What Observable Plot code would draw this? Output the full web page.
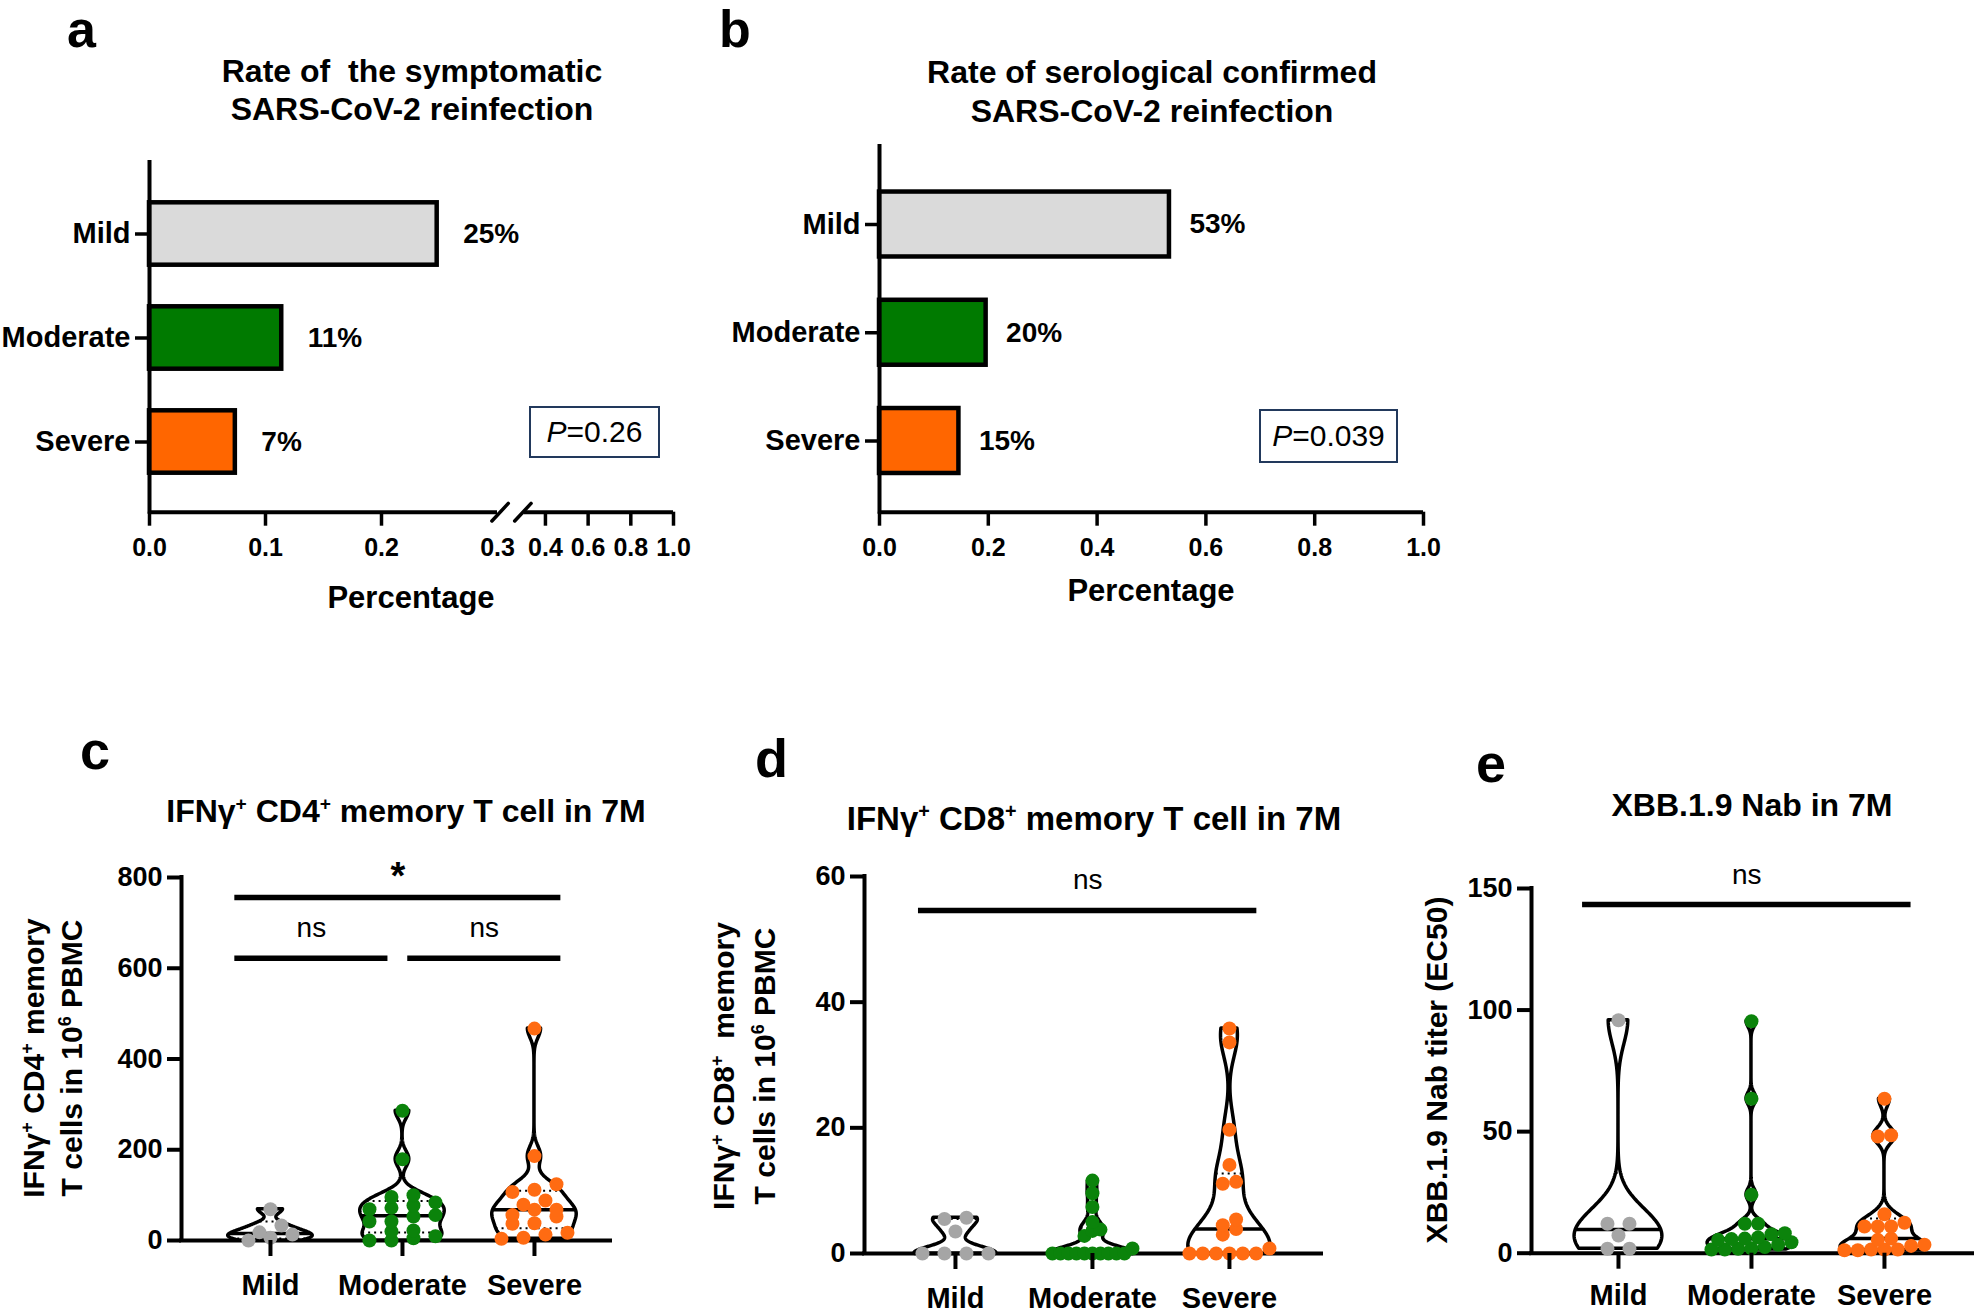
<!DOCTYPE html>
<html>
<head>
<meta charset="utf-8">
<script src="https://cdn.jsdelivr.net/npm/d3@7"></script>
<script src="https://cdn.jsdelivr.net/npm/@observablehq/plot@0.6"></script>
<style>
  html, body { margin: 0; padding: 0; background: #ffffff; }
  #page { position: relative; width: 1975px; height: 1313px; overflow: hidden; background: #fff;
          font-family: "Liberation Sans", Arial, Helvetica, sans-serif; color: #000; }
  #page svg { position: absolute; }
  .t { position: absolute; white-space: pre; line-height: 1; }
  .t sup, .ylab sup { font-size: 0.6em; position: relative; top: -0.62em; vertical-align: baseline; line-height: 0; }
  .pbox { position: absolute; box-sizing: border-box; border: 2px solid #22395c; display: flex; align-items: center;
          justify-content: center; font-size: 30px; font-weight: normal; line-height: 1; white-space: pre; }
  .ylab { position: absolute; transform: translate(-50%, -50%) rotate(-90deg); white-space: pre; text-align: center;
          font-weight: bold; font-size: 30px; }
</style>
</head>
<body>
<div id="page"></div>
<script>
// ---------------- data ----------------
const groups = ["Mild", "Moderate", "Severe"];

// a: symptomatic reinfection rate
const symptomaticRate = [0.248, 0.114, 0.074];
const symptomaticText = ["25%", "11%", "7%"];
const pSymptomatic = "0.26";
const ticksA = [0, 0.1, 0.2, 0.3, 0.4, 0.6, 0.8, 1.0];

// b: serological confirmed reinfection rate
const serologicalRate = [0.533, 0.196, 0.146];
const serologicalText = ["53%", "20%", "15%"];
const pSerological = "0.039";
const ticksB = [0, 0.2, 0.4, 0.6, 0.8, 1.0];

// c: IFNγ+ CD4+ memory T cells
const cd4Mild = [69, 33, 18, 13, 6, 0];
const cd4Moderate = [286, 179, 100, 96, 84, 77, 72, 69, 56, 53, 42, 42, 22, 20, 9.5, 5, 0, 0];
const cd4Severe = [467, 186, 124, 112, 107, 88, 79, 68, 68, 56, 53, 38, 37, 17, 13, 6, 4];
const ticksC = [0, 200, 400, 600, 800];
const sigC = [
  {from: "Mild", to: "Severe", level: 756, label: "*"},
  {from: "Mild", to: "Moderate", level: 622, label: "ns"},
  {from: "Moderate", to: "Severe", level: 622, label: "ns"}
];

// d: IFNγ+ CD8+ memory T cells
const cd8Mild = [5.7, 5.5, 3.5, 0, 0, 0, 0];
const cd8Moderate = [11.6, 9.6, 7.4, 5.0, 3.8, 3.6, 2.8, 0.8, 0, 0, 0, 0, 0, 0, 0, 0, 0, 0];
const cd8Severe = [35.8, 33.6, 19.7, 14.1, 11.4, 11.1, 5.4, 4.5, 3.9, 3.0, 0.8, 0, 0, 0, 0, 0, 0];
const ticksD = [0, 20, 40, 60];
const sigD = [{from: "Mild", to: "Severe", level: 54.6, label: "ns"}];

// e: XBB.1.9 Nab titer
const nabMild = [95.8, 12.1, 12.1, 7.3, 1.8, 1.8];
const nabModerate = [95.4, 63.5, 24.0, 12.1, 12.1, 8.2, 7.8, 6.5, 6.0, 5.8, 5.5, 4.5, 3.5, 2.5, 2.0, 1.8, 1.5, 1.5];
const nabSevere = [63.5, 48.5, 48.0, 16.0, 12.5, 11.0, 11.0, 11.0, 6.0, 5.5, 3.5, 3.0, 1.5, 1.5, 1.5, 1.2, 1.2];
const ticksE = [0, 50, 100, 150];
const sigE = [{from: "Mild", to: "Severe", level: 143.4, label: "ns"}];

// ---------------- styling / helpers ----------------
const page = document.getElementById("page");
const FONT = '"Liberation Sans", Arial, Helvetica, sans-serif';
const barColors = ["#dadada", "#007a00", "#ff6600"];
const dotColors = ["#a5a5a5", "#0b830b", "#ff6b12"];

function svgStyle(fs) {
  return {fontFamily: FONT, fontWeight: "bold", fontSize: fs + "px", background: "transparent", overflow: "visible"};
}
function mount(svg, left, top) {
  svg.style.left = left + "px";
  svg.style.top = top + "px";
  page.appendChild(svg);
}
function txt(html, x, baseline, fs, opt = {}) {
  const lh = opt.lineHeight || 1;
  const el = document.createElement("div");
  el.className = "t";
  el.innerHTML = html;
  el.style.fontSize = fs + "px";
  el.style.lineHeight = String(lh);
  el.style.fontWeight = opt.weight || "bold";
  el.style.left = x + "px";
  el.style.top = (baseline - (lh / 2 + 0.3465) * fs) + "px";
  if (opt.anchor === "middle") el.style.transform = "translateX(-50%)";
  page.appendChild(el);
}
function pbox(html, left, top, w, h) {
  const el = document.createElement("div");
  el.className = "pbox";
  el.style.left = left + "px"; el.style.top = top + "px";
  el.style.width = w + "px"; el.style.height = h + "px";
  el.innerHTML = html;
  page.appendChild(el);
}
function ylab(html, cx, cy, lh) {
  const el = document.createElement("div");
  el.className = "ylab";
  el.style.left = cx + "px"; el.style.top = cy + "px";
  el.style.lineHeight = lh + "px";
  el.innerHTML = html;
  page.appendChild(el);
}

// ---------------- bar panels (a, b) ----------------
const slash = {draw(context, l) { context.moveTo(0, 0); context.lineTo(0, -l); }};

function barPanel(cfg) {
  const bars = groups.map((g, i) => ({g, i, value: cfg.rates[i], text: cfg.texts[i]}));
  const yAxisPos = cfg.ydom[0];
  const marks = [
    Plot.rect(bars, {x1: 0, x2: "value", y1: d => d.i - 0.3, y2: d => d.i + 0.3,
      fill: "g", stroke: "black", strokeWidth: 4.5}),
    Plot.ruleX([0], {stroke: "black", strokeWidth: 4, strokeLinecap: "square"}),
    Plot.ruleY(cfg.segments, {y: yAxisPos, x1: d => d[0], x2: d => d[1], stroke: "black", strokeWidth: 4}),
    Plot.axisY([0, 1, 2], {tickSize: 14, tickPadding: 5, strokeWidth: 3.5, fontSize: 29,
      tickFormat: i => groups[i], label: null}),
    Plot.axisX(cfg.tickLines, {tickSize: 14, strokeWidth: 3.5, tickFormat: () => "", label: null}),
    Plot.axisX(cfg.tickLabels, {tickSize: 0, tickPadding: 26, fontSize: 25,
      tickFormat: d => d.toFixed(1), label: null}),
    Plot.text(bars, {x: "value", y: "i", text: "text", dx: cfg.labelDx, textAnchor: "start",
      fontSize: 28, fontWeight: "bold"})
  ];
  if (cfg.breakAt) {
    marks.push(Plot.vector([cfg.breakAt[0]], {x: d => d, y: yAxisPos, length: 24, rotate: 43, anchor: "middle",
      shape: slash, strokeWidth: 3.5, dx: 2.6}));
    marks.push(Plot.vector([cfg.breakAt[1]], {x: d => d, y: yAxisPos, length: 24, rotate: 43, anchor: "middle",
      shape: slash, strokeWidth: 3.5, dx: -1.2}));
  }
  const svg = Plot.plot({
    width: cfg.width, height: cfg.height,
    marginLeft: cfg.ml, marginRight: cfg.mr, marginTop: cfg.mt, marginBottom: cfg.mb,
    style: svgStyle(25),
    x: cfg.x,
    y: {domain: cfg.ydom},
    color: {domain: groups, range: barColors},
    marks
  });
  mount(svg, cfg.left, cfg.top);
}

barPanel({
  left: 0, top: 130, width: 700, height: 450, ml: 149, mr: 27, mt: 32, mb: 68.3,
  ydom: [2.675, -0.6875],
  x: {type: "linear", domain: [0, 0.3, 0.30001, 1], range: [149, 497, 523.6, 673]},
  rates: symptomaticRate, texts: symptomaticText,
  segments: [[0, 0.3], [0.30001, 1]],
  tickLines: ticksA.filter(t => t !== 0.3), tickLabels: ticksA,
  labelDx: 26, breakAt: [0.3, 0.30001]
});

barPanel({
  left: 720, top: 120, width: 730, height: 460, ml: 159, mr: 27, mt: 26, mb: 68.3,
  ydom: [2.6577, -0.7206],
  x: {type: "linear", domain: [0, 1]},
  rates: serologicalRate, texts: serologicalText,
  segments: [[0, 1]],
  tickLines: ticksB, tickLabels: ticksB,
  labelDx: 20, breakAt: null
});

// ---------------- violin panels (c, d, e) ----------------
function quantileR6(s, p) {
  const n = s.length, h = (n + 1) * p, lo = Math.floor(h);
  if (lo < 1) return s[0];
  if (lo >= n) return s[n - 1];
  return s[lo - 1] + (h - lo) * (s[lo] - s[lo - 1]);
}
function bandwidth(s) {
  const n = s.length;
  const sd = d3.deviation(s) || 1;
  const iqr = quantileR6(s, 0.75) - quantileR6(s, 0.25);
  const spread = iqr > 0 ? Math.min(sd, iqr / 1.34) : sd;
  return 0.6 * spread * Math.pow(n, -0.2);
}
function swarm(sorted, ky) {
  const rowTol = 7.8;
  const rows = [];
  let cur = null;
  sorted.forEach((v, k) => {
    const py = v * ky;
    if (!cur || py - cur.start > rowTol) { cur = {start: py, idx: []}; rows.push(cur); }
    cur.idx.push(k);
  });
  const mMax = d3.max(rows, r => r.idx.length);
  const sp = mMax > 1 ? Math.min(22, 80 / (mMax - 1)) : 22;
  const offs = new Array(sorted.length);
  rows.forEach(r => {
    const m = r.idx.length;
    r.idx.forEach((k, j) => { offs[k] = (j - (m - 1) / 2) * sp; });
  });
  return offs;
}
function sigRows(sig) {
  return sig.map(s => {
    const i = groups.indexOf(s.from), j = groups.indexOf(s.to);
    const x1 = i - 0.27 + (i > 0 ? 0.31 : 0);
    const x2 = j + 0.2 - (j < groups.length - 1 ? 0.31 : 0);
    return {...s, x1, x2, mid: (x1 + x2) / 2};
  });
}

function violinPanel(cfg) {
  const kx = (cfg.width - cfg.ml - cfg.mr) / (cfg.xdom[1] - cfg.xdom[0]);
  const ky = (cfg.height - cfg.mt - cfg.mb) / (cfg.ydom[1] - cfg.ydom[0]);
  const outline = [], stats = [], dots = [];
  cfg.series.forEach((vals, gi) => {
    const s = d3.sort(vals);
    const n = s.length, lo = s[0], hi = s[n - 1];
    const h = bandwidth(s);
    const f = v => d3.sum(s, x => Math.exp(-0.5 * ((v - x) / h) ** 2));
    const N = 160;
    const grid = d3.range(N + 1).map(k => lo + (hi - lo) * k / N);
    const fmax = d3.max(grid, f);
    const w = v => cfg.halfWidth * f(v) / fmax;
    grid.forEach(v => outline.push({g: groups[gi], gi, v, w: w(v)}));
    [[0.25, "q"], [0.5, "m"], [0.75, "q"]].forEach(([p, kind]) => {
      const q = quantileR6(s, p);
      stats.push({gi, q, w: w(q), kind});
    });
    const offs = swarm(s, ky);
    s.forEach((v, k) => dots.push({g: groups[gi], v, x: gi + offs[k] / kx}));
  });
  const sig = sigRows(cfg.sig);
  const svg = Plot.plot({
    width: cfg.width, height: cfg.height,
    marginLeft: cfg.ml, marginRight: cfg.mr, marginTop: cfg.mt, marginBottom: cfg.mb,
    style: svgStyle(27),
    x: {type: "linear", domain: cfg.xdom},
    y: {type: "linear", domain: cfg.ydom},
    color: {domain: groups, range: dotColors},
    marks: [
      Plot.ruleX([cfg.xdom[0]], {stroke: "black", strokeWidth: 4, strokeLinecap: "square"}),
      Plot.ruleY([0], {stroke: "black", strokeWidth: 4, strokeLinecap: "square"}),
      Plot.areaX(outline, {y: "v", x1: d => d.gi - d.w, x2: d => d.gi + d.w, z: "g",
        fill: "white", stroke: "black", strokeWidth: 3.5, strokeLinejoin: "round"}),
      Plot.ruleY(stats.filter(d => d.kind === "q"), {y: "q", x1: d => d.gi - d.w, x2: d => d.gi + d.w,
        stroke: "black", strokeWidth: 2, strokeDasharray: "2,4"}),
      Plot.ruleY(stats.filter(d => d.kind === "m"), {y: "q", x1: d => d.gi - d.w, x2: d => d.gi + d.w,
        stroke: "black", strokeWidth: 3.5}),
      Plot.dot(dots, {x: "x", y: "v", r: 7, fill: "g"}),
      Plot.axisY(cfg.yticks, {tickSize: 14, tickPadding: 5, strokeWidth: 4, fontSize: 27, label: null}),
      Plot.axisX([0, 1, 2], {tickSize: 16, tickPadding: cfg.xPad, strokeWidth: 4, fontSize: 29,
        tickFormat: i => groups[i], label: null}),
      Plot.ruleY(sig, {y: "level", x1: "x1", x2: "x2", stroke: "black", strokeWidth: 5.5}),
      Plot.text(sig.filter(d => d.label !== "*"), {x: "mid", y: "level", text: "label", dy: -30,
        fontSize: 28, fontWeight: "normal"}),
      Plot.text(sig.filter(d => d.label === "*"), {x: "mid", y: "level", text: "label", dy: -21,
        fontSize: 38, fontWeight: "bold"})
    ]
  });
  mount(svg, cfg.left, cfg.top);
}

violinPanel({
  left: 100, top: 840, width: 530, height: 473, ml: 81, mr: 20, mt: 37, mb: 73,
  xdom: [-0.674, 2.576], ydom: [0, 800], yticks: ticksC, xPad: 18,
  series: [cd4Mild, cd4Moderate, cd4Severe], sig: sigC, halfWidth: 0.32
});
violinPanel({
  left: 780, top: 840, width: 560, height: 473, ml: 84, mr: 19, mt: 36, mb: 60,
  xdom: [-0.664, 2.672], ydom: [0, 60], yticks: ticksD, xPad: 18,
  series: [cd8Mild, cd8Moderate, cd8Severe], sig: sigD, halfWidth: 0.3
});
violinPanel({
  left: 1450, top: 840, width: 525, height: 473, ml: 81, mr: 3, mt: 48, mb: 60.3,
  xdom: [-0.654, 2.662], ydom: [0, 150], yticks: ticksE, xPad: 15,
  series: [nabMild, nabModerate, nabSevere], sig: sigE, halfWidth: 0.33
});

// ---------------- text: panel letters, titles, axis titles ----------------
txt("a", 67, 48, 52, {lineHeight: 0.72});
txt("b", 719, 48, 52, {lineHeight: 0.72});
txt("c", 80, 769, 54, {lineHeight: 0.72});
txt("d", 755, 777, 54, {lineHeight: 0.72});
txt("e", 1476, 782, 54, {lineHeight: 0.72});

txt("Rate of  the symptomatic", 412, 82, 32, {anchor: "middle"});
txt("SARS-CoV-2 reinfection", 412, 120, 32, {anchor: "middle"});
txt("Rate of serological confirmed", 1152, 83, 32, {anchor: "middle"});
txt("SARS-CoV-2 reinfection", 1152, 122, 32, {anchor: "middle"});
txt("IFNγ<sup>+</sup> CD4<sup>+</sup> memory T cell in 7M", 406, 822, 32, {anchor: "middle"});
txt("IFNγ<sup>+</sup> CD8<sup>+</sup> memory T cell in 7M", 1094, 830, 33, {anchor: "middle"});
txt("XBB.1.9 Nab in 7M", 1752, 816, 32, {anchor: "middle"});

txt("Percentage", 411, 608, 31, {anchor: "middle"});
txt("Percentage", 1151, 601, 31, {anchor: "middle"});

pbox("<i>P</i>=" + pSymptomatic, 529, 406, 131, 52);
pbox("<i>P</i>=" + pSerological, 1259, 409, 139, 54);

ylab("IFNγ<sup>+</sup> CD4<sup>+</sup> memory\nT cells in 10<sup>6</sup> PBMC", 53, 1058, 38);
ylab("IFNγ<sup>+</sup> CD8<sup>+</sup>  memory\nT cells in 10<sup>6</sup> PBMC", 744, 1066, 41);
ylab("XBB.1.9 Nab titer (EC50)", 1437, 1070, 36);
</script>
</body>
</html>
